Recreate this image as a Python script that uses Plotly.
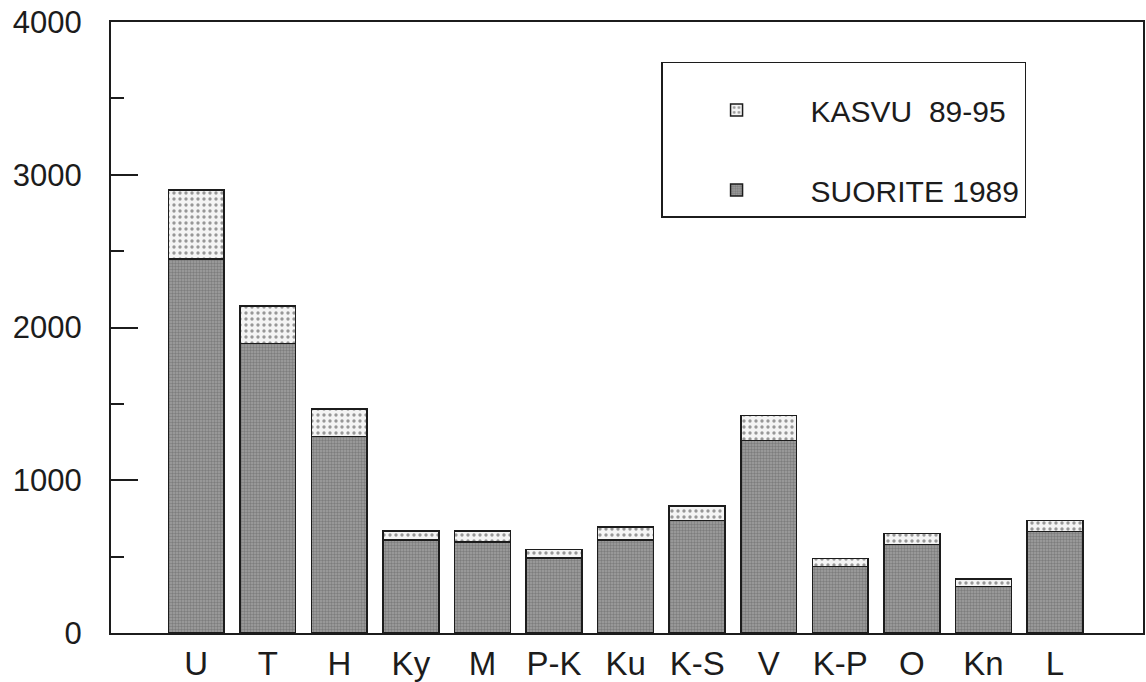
"""
Stacked bar chart: SUORITE 1989 with KASVU 89-95 on top, by region.
"""
import plotly.graph_objects as go

# Region codes along the x axis
categories = ['U', 'T', 'H', 'Ky', 'M', 'P-K', 'Ku', 'K-S', 'V', 'K-P', 'O', 'Kn', 'L']

# Base level in 1989
suorite_1989 = [2450, 1895, 1285, 610, 595, 490, 610, 735, 1260, 435, 580, 305, 665]

# Growth 1989-95, stacked on top of the base
kasvu_89_95 = [450, 245, 180, 58, 72, 57, 83, 97, 165, 52, 70, 47, 73]

y_ticks = [0, 1000, 2000, 3000, 4000]

FONT = 'Liberation Sans, Arial, Helvetica, sans-serif'
INK = '#1c1c1c'

fig = go.Figure()

fig.add_trace(
    go.Bar(
        x=categories,
        y=suorite_1989,
        name='SUORITE 1989',
        legendgroup='suorite',
        legendrank=2,
        width=0.78,
        marker=dict(
            color='#8e8e8e',
            line=dict(color=INK, width=1.5),
            pattern=dict(shape='.', fgcolor='#5a5a5a', bgcolor='#a0a0a0',
                         size=3, solidity=0.5),
        ),
    )
)

fig.add_trace(
    go.Bar(
        x=categories,
        y=kasvu_89_95,
        name='KASVU  89-95',
        legendgroup='kasvu',
        legendrank=1,
        width=0.78,
        marker=dict(
            color='#ffffff',
            line=dict(color=INK, width=1.5),
            pattern=dict(shape='.', fgcolor='#3a3a3a', bgcolor='#f4f4f4',
                         size=6, solidity=0.25),
        ),
    )
)

fig.update_layout(
    barmode='stack',
    width=1146,
    height=682,
    margin=dict(l=111, r=3, t=22, b=49, autoexpand=False),
    paper_bgcolor='white',
    plot_bgcolor='white',
    font=dict(family=FONT, color=INK),
    showlegend=True,
    legend=dict(
        x=0.533,
        y=0.935,
        xanchor='left',
        yanchor='top',
        traceorder='grouped',
        tracegroupgap=38,
        itemwidth=138,
        bgcolor='white',
        bordercolor=INK,
        borderwidth=1.5,
        title=dict(text=' ', font=dict(size=16)),
        font=dict(size=30, family=FONT, color=INK),
    ),
    xaxis=dict(
        type='category',
        range=[-1.19, 13.23],
        showline=True,
        linecolor=INK,
        linewidth=2,
        mirror=True,
        ticks='',
        showgrid=False,
        automargin=False,
        tickfont=dict(size=33),
        ticklabelstandoff=0,
    ),
    yaxis=dict(
        range=[0, 4000],
        tickvals=y_ticks,
        showline=True,
        linecolor=INK,
        linewidth=2,
        mirror=True,
        ticks='inside',
        ticklen=27,
        tickwidth=1.5,
        tickcolor=INK,
        minor=dict(dtick=500, ticks='inside', ticklen=13, tickwidth=1.5, tickcolor=INK),
        showgrid=False,
        zeroline=False,
        automargin=False,
        tickfont=dict(size=31),
        ticklabelstandoff=21,
        ticklabeloverflow='allow',
    ),
)

# drop the default 8px body margin so the figure fills the window exactly
fig.write_html(
    "out.html",
    config={'displayModeBar': False},
    post_script="document.body.style.margin = '0';",
)
